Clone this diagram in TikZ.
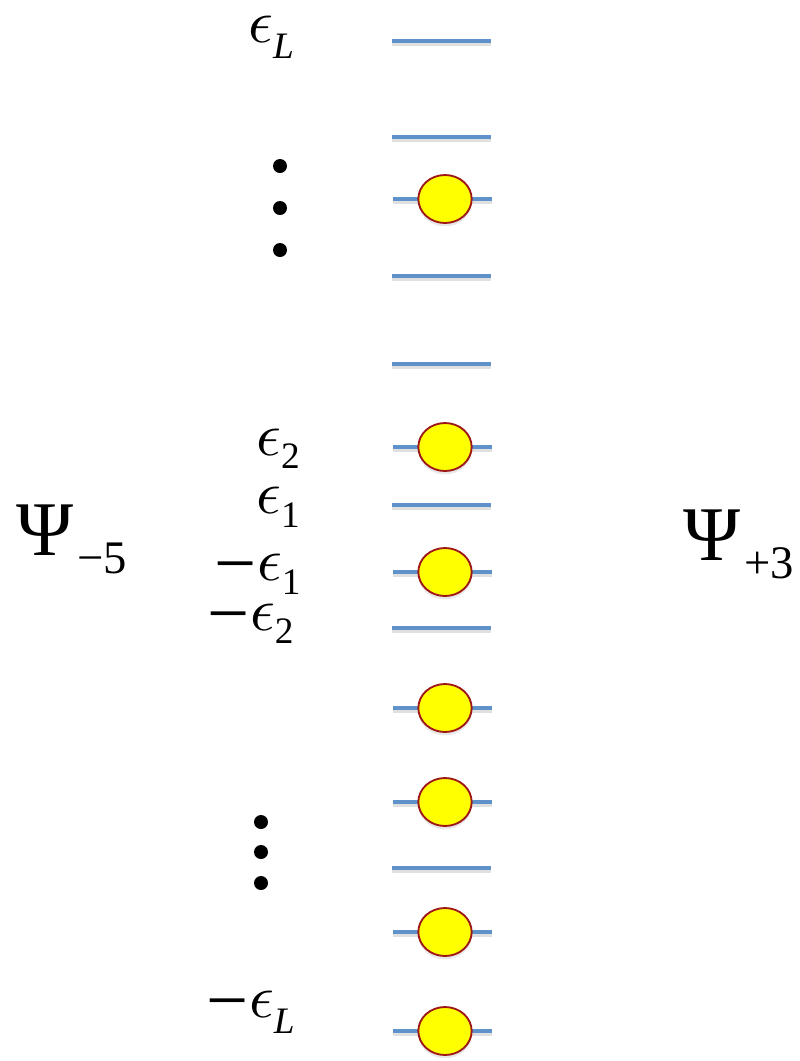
\documentclass[tikz,border=0pt]{standalone}
\usepackage{fontspec}
\newfontfamily\tms{Liberation Serif}
\usetikzlibrary{shapes.geometric,shadows}
\definecolor{levelblue}{RGB}{95,146,202}
\definecolor{rimred}{RGB}{158,24,24}
\definecolor{fillyellow}{RGB}{255,255,0}
% pieces of the energy and state labels
\newcommand{\eps}{\scalebox{4.6}{$\epsilon$}}
\newcommand{\esub}[2]{\raisebox{#1}{\fontsize{28}{30}\selectfont\tms #2}}
\newcommand{\mn}{\raisebox{-6pt}{\fontsize{56}{58}\selectfont\tms −}\hspace{0.5pt}}
\newcommand{\bigpsi}{{\fontsize{58}{60}\selectfont\tms Ψ}}
\newcommand{\psub}[2]{\hspace{3pt}\raisebox{#1}{\fontsize{35}{36}\selectfont\tms #2}}
\begin{document}
\begin{tikzpicture}[x=0.75pt,y=-0.75pt,
  level/.style={line width=3pt, levelblue},
  levelshadow/.style={line width=3pt, black, opacity=0.12},
  electron/.style={ellipse, draw=rimred, line width=1.4pt, fill=fillyellow,
    minimum width=40pt, minimum height=36pt, inner sep=0pt,
    drop shadow={shadow xshift=0pt, shadow yshift=-2.5pt, opacity=0.18}},
  vdot/.style={circle, fill=black, minimum size=10.5pt, inner sep=0pt},
  lab/.style={anchor=base west, inner sep=0pt}]
\useasboundingbox (0,0) rectangle (800,1061);

% empty single-particle levels
\foreach \yy in {41,137,276,364,505,628,868} {
  \draw[levelshadow] (392,\yy+3) -- (491,\yy+3);
  \draw[level] (392,\yy) -- (491,\yy);
}
% occupied levels, each with its particle
\foreach \yy [count=\i] in {199,447,572,708,802,932,1031} {
  \draw[levelshadow] (393,\yy+3) -- (492,\yy+3);
  \draw[level] (393,\yy) -- (492,\yy);
  \node[electron] (occ\i) at (445,\yy) {};
}

% vertical ellipses
\node[vdot] (da1) at (280,166) {};
\node[vdot] (da2) at (280,208) {};
\node[vdot] (da3) at (280,250) {};
\node[vdot] (db1) at (261,822) {};
\node[vdot] (db2) at (261,852) {};
\node[vdot] (db3) at (261,883) {};

% energy labels
\node[lab] (epsL) at (248,42) {\eps\esub{-12pt}{\itshape L}};
\node[lab] (eps2) at (256,455) {\eps\esub{-10pt}{2}};
\node[lab] (eps1) at (256,513) {\eps\esub{-11pt}{1}};
\node[lab] (meps1) at (214,580) {\mn\eps\esub{-11pt}{1}};
\node[lab] (meps2) at (207,630) {\mn\eps\esub{-10pt}{2}};
\node[lab] (mepsL) at (206,1017) {\mn\eps\esub{-12pt}{\itshape L}};

% state labels
\node[lab] (psiL) at (16,555) {\bigpsi\psub{-14pt}{−5}};
\node[lab] (psiR) at (683,560) {\bigpsi\psub{-13.5pt}{+3}};
\end{tikzpicture}
\end{document}
